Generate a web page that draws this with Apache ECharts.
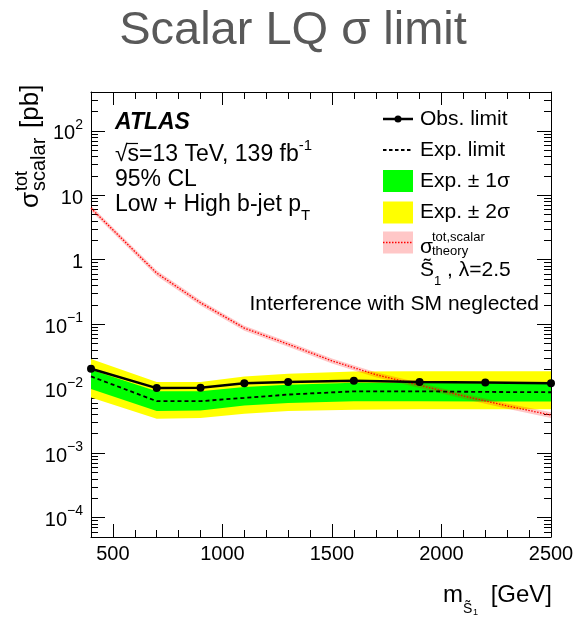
<!DOCTYPE html>
<html><head><meta charset="utf-8">
<script src="https://cdn.jsdelivr.net/npm/echarts@6/dist/echarts.min.js"></script>
<style>html,body{margin:0;padding:0;background:#fff;}#c{width:577px;height:618px;}</style>
</head><body><div id="c"></div>
<script>
// ---------------- data ----------------
const massPoints = [400, 700, 900, 1100, 1300, 1600, 1900, 2200, 2500];
const obsLimit   = [0.0204, 0.0102, 0.0103, 0.0121, 0.0127, 0.0133, 0.0127, 0.0125, 0.0121];
const expLimit   = [0.0155, 0.0064, 0.0064, 0.0072, 0.0081, 0.0091, 0.0091, 0.0089, 0.0088];
const exp1SigUp  = [0.0197, 0.0091, 0.0091, 0.0106, 0.0115, 0.0123, 0.0122, 0.0121, 0.0120];
const exp1SigDn  = [0.0099, 0.0045, 0.0046, 0.0055, 0.0060, 0.0064, 0.0064, 0.0063, 0.0063];
const exp2SigUp  = [0.0289, 0.0127, 0.0127, 0.0155, 0.0171, 0.0184, 0.0187, 0.0187, 0.0187];
const exp2SigDn  = [0.0073, 0.0034, 0.0035, 0.0041, 0.0045, 0.0047, 0.0048, 0.0048, 0.0048];

const theoryMass = [400, 700, 900, 1100, 1300, 1500, 1700, 1900, 2100, 2300, 2500];
const theoryXsec = [6.3, 0.62, 0.215, 0.087, 0.049, 0.027, 0.0165, 0.0113, 0.0077, 0.0054, 0.0039];
const theoryUp   = [6.9, 0.68, 0.235, 0.095, 0.0535, 0.0295, 0.0180, 0.0124, 0.0084, 0.0059, 0.0043];
const theoryDn   = [5.7, 0.56, 0.195, 0.079, 0.0445, 0.0245, 0.0150, 0.0102, 0.0070, 0.0049, 0.0035];

const xRange = [400, 2500];
const yRange = [5e-5, 400];
const xMajorTicks = [500, 1000, 1500, 2000, 2500];
const xMinorTicks = [400, 500, 600, 700, 800, 900, 1000, 1100, 1200, 1300, 1400, 1500, 1600, 1700, 1800, 1900, 2000, 2100, 2200, 2300, 2400, 2500];
const yMajorTicks = [1e-4, 1e-3, 1e-2, 1e-1, 1, 10, 100];
const yMinorMultipliers = [2, 3, 4, 5, 6, 7, 8, 9];
const yDecades = [1e-5, 1e-4, 1e-3, 1e-2, 1e-1, 1, 10, 100];

// ---------------- helpers ----------------
const L = v => Math.log10(v);
const FF = '"Liberation Sans", Arial, Helvetica, sans-serif';
const yMinorTicks = [];
yDecades.forEach(d => yMinorMultipliers.forEach(k => {
  const v = d * k;
  if (v >= yRange[0] * 0.999 && v <= yRange[1] * 1.001) yMinorTicks.push(L(v));
}));

function band(xs, lo, hi, color, z) {
  return {
    type: 'custom', xAxisIndex: 0, yAxisIndex: 0, z: z, silent: true, clip: true,
    data: [[xs[0], L(lo[0])]],
    renderItem: (params, api) => {
      const pts = [];
      xs.forEach((x, i) => pts.push(api.coord([x, L(hi[i])])));
      for (let i = xs.length - 1; i >= 0; i--) pts.push(api.coord([xs[i], L(lo[i])]));
      return { type: 'polygon', shape: { points: pts }, style: { fill: color } };
    }
  };
}

const chart = echarts.init(document.getElementById('c'), null, { renderer: 'canvas' });

const axisBlack = { color: '#000', width: 1 };
function xAx(pos, ticks, len, labels, line) {
  return {
    type: 'value', position: pos, min: xRange[0], max: xRange[1],
    axisLine: { show: line, onZero: false, lineStyle: axisBlack },
    axisTick: { show: true, inside: true, length: len, customValues: ticks, lineStyle: axisBlack },
    axisLabel: labels ? { show: true, customValues: ticks, fontSize: 20, color: '#000', fontFamily: FF, margin: 7, formatter: v => String(Math.round(v)) } : { show: false },
    splitLine: { show: false }
  };
}
function yAx(pos, ticks, len, labels, line) {
  return {
    type: 'value', position: pos, min: L(yRange[0]), max: L(yRange[1]),
    axisLine: { show: line, onZero: false, lineStyle: axisBlack },
    axisTick: { show: true, inside: true, length: len, customValues: ticks, lineStyle: axisBlack },
    axisLabel: labels ? {
      show: true, customValues: ticks, margin: 8,
      formatter: v => {
        const e = Math.round(v);
        if (e === 0) return '{b|1}';
        if (e === 1) return '{b|10}';
        return '{b|10}{s|' + (e < 0 ? '\u2212' + (-e) : e) + '}';
      },
      rich: {
        b: { fontSize: 20, fontFamily: FF, color: '#000', lineHeight: 26, verticalAlign: 'bottom' },
        s: { fontSize: 14, fontFamily: FF, color: '#000', lineHeight: 26, verticalAlign: 'top' }
      }
    } : { show: false },
    splitLine: { show: false }
  };
}

const txt = (x, y, text, size, extra) => ({
  type: 'text', x: x, y: y, silent: true,
  style: Object.assign({ text: text, fontSize: size, fontFamily: FF, fill: '#000', textAlign: 'left', textVerticalAlign: 'middle' }, extra || {})
});

const graphics = [
  // title
  txt(293, 31, 'Scalar LQ \u03c3 limit', 47, { fill: '#595959', textAlign: 'center' }),
  // left texts
  txt(115, 123, 'ATLAS', 23, { fontWeight: 'bold', fontStyle: 'italic' }),
  { type: 'text', x: 115, y: 152, silent: true, style: { text: '{a|\u221As=13 TeV, 139 fb}{s|-1}', textVerticalAlign: 'middle',
      rich: { a: { fontSize: 23, fontFamily: FF, fill: '#000', lineHeight: 28, verticalAlign: 'bottom' }, s: { fontSize: 15, fontFamily: FF, fill: '#000', lineHeight: 28, verticalAlign: 'top' } } } },
  { type: 'line', silent: true, shape: { x1: 126, y1: 143.5, x2: 138, y2: 143.5 }, style: { stroke: '#000', lineWidth: 1.2 } },
  txt(115, 180, '95% CL', 23),
  { type: 'text', x: 115, y: 208, silent: true, style: { text: '{a|Low + High b-jet p}{s|T}', textVerticalAlign: 'middle',
      rich: { a: { fontSize: 23, fontFamily: FF, fill: '#000', lineHeight: 30, verticalAlign: 'top' }, s: { fontSize: 15, fontFamily: FF, fill: '#000', lineHeight: 30, verticalAlign: 'bottom' } } } },
  // legend symbols
  { type: 'line', silent: true, shape: { x1: 383, y1: 119, x2: 413, y2: 119 }, style: { stroke: '#000', lineWidth: 2.5 } },
  { type: 'circle', silent: true, shape: { cx: 398, cy: 119, r: 3.5 }, style: { fill: '#000' } },
  { type: 'line', silent: true, shape: { x1: 383, y1: 150, x2: 413, y2: 150 }, style: { stroke: '#000', lineWidth: 1.8, lineDash: [3.5, 2.5] } },
  { type: 'rect', silent: true, shape: { x: 383, y: 170, width: 30, height: 22 }, style: { fill: '#00ff00' } },
  { type: 'rect', silent: true, shape: { x: 383, y: 201.5, width: 30, height: 22 }, style: { fill: '#ffff00' } },
  { type: 'rect', silent: true, shape: { x: 383, y: 231.5, width: 30, height: 22 }, style: { fill: 'rgba(255,0,0,0.22)' } },
  { type: 'line', silent: true, shape: { x1: 383, y1: 242.5, x2: 413, y2: 242.5 }, style: { stroke: '#ff0000', lineWidth: 1.3, lineDash: [1.5, 1.5] } },
  // legend texts
  txt(420, 119, 'Obs. limit', 21),
  txt(420, 150, 'Exp. limit', 21),
  txt(420, 181, 'Exp. \u00b1 1\u03c3', 21),
  txt(420, 212.5, 'Exp. \u00b1 2\u03c3', 21),
  txt(420, 247, '\u03c3', 21),
  txt(432, 237, 'tot,scalar', 13),
  txt(432, 251, 'theory', 13),
  { type: 'text', x: 420, y: 274, silent: true, style: { text: '{a|S\u0303}{s|1}{a| , \u03bb=2.5}', textVerticalAlign: 'middle',
      rich: { a: { fontSize: 21, fontFamily: FF, fill: '#000', lineHeight: 28, verticalAlign: 'top' }, s: { fontSize: 13, fontFamily: FF, fill: '#000', lineHeight: 28, verticalAlign: 'bottom' } } } },
  txt(539, 304, 'Interference with SM neglected', 21, { textAlign: 'right' }),
  // x axis title
  txt(443, 595, 'm', 24),
  txt(463, 609, 'S\u0303', 14),
  txt(473, 613, '1', 9),
  txt(552, 595, '[GeV]', 24, { textAlign: 'right' }),
  // y axis title (rotated)
  { type: 'group', x: 31, y: 208, rotation: Math.PI / 2, silent: true, children: [
      txt(0, 0, '\u03c3', 26),
      txt(17, -9, 'tot', 18),
      txt(17, 8, 'scalar', 20),
      txt(80, 0, '[pb]', 26)
  ] }
];

const option = {
  animation: false,
  backgroundColor: '#fff',
  grid: { left: 91, right: 26, top: 92, bottom: 81, containLabel: false },
  xAxis: [
    xAx('bottom', xMajorTicks, 13, true, true),
    xAx('bottom', xMinorTicks, 7, false, false),
    xAx('top', xMajorTicks, 13, false, true),
    xAx('top', xMinorTicks, 7, false, false)
  ],
  yAxis: [
    yAx('left', yMajorTicks.map(L), 14, true, true),
    yAx('left', yMinorTicks, 7, false, false),
    yAx('right', yMajorTicks.map(L), 14, false, true),
    yAx('right', yMinorTicks, 7, false, false)
  ],
  series: [
    band(massPoints, exp2SigDn, exp2SigUp, '#ffff00', 1),
    band(massPoints, exp1SigDn, exp1SigUp, '#00ff00', 2),
    band(theoryMass, theoryDn, theoryUp, 'rgba(255,0,0,0.22)', 3),
    { type: 'line', xAxisIndex: 0, yAxisIndex: 0, z: 4, silent: true, symbol: 'none',
      data: theoryMass.map((m, i) => [m, L(theoryXsec[i])]),
      lineStyle: { color: '#ff0000', width: 1.3, type: [1.5, 1.5] } },
    { type: 'line', xAxisIndex: 0, yAxisIndex: 0, z: 5, silent: true, symbol: 'none',
      data: massPoints.map((m, i) => [m, L(expLimit[i])]),
      lineStyle: { color: '#000', width: 1.8, type: [4, 3] } },
    { type: 'line', xAxisIndex: 0, yAxisIndex: 0, z: 6, silent: true, clip: false,
      symbol: 'circle', symbolSize: 8,
      data: massPoints.map((m, i) => [m, L(obsLimit[i])]),
      itemStyle: { color: '#000' },
      lineStyle: { color: '#000', width: 2.5 } }
  ],
  graphic: graphics
};
chart.setOption(option);
</script>
</body></html>
